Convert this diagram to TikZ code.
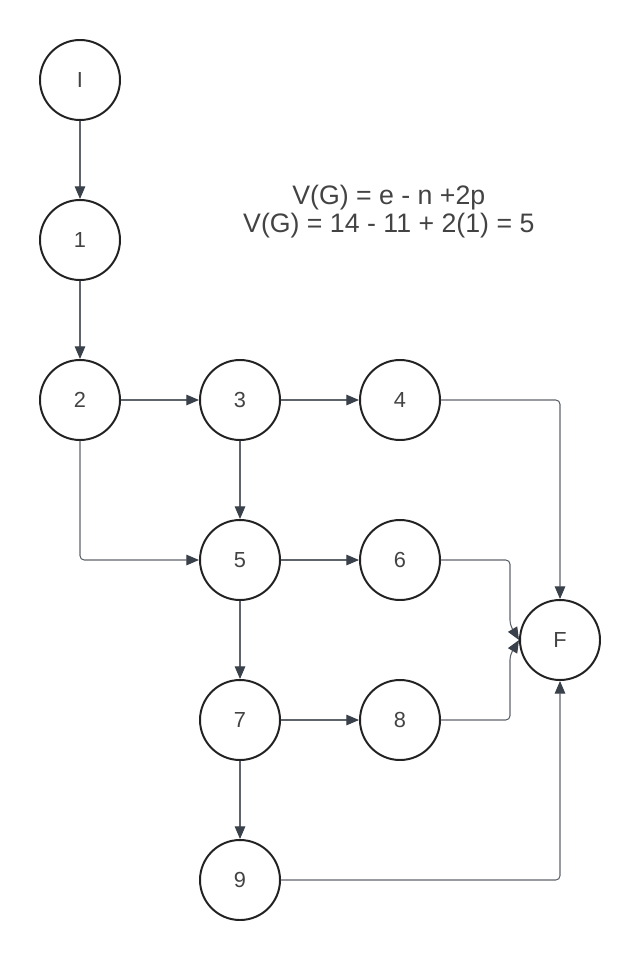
\documentclass[tikz,border=0pt]{standalone}
\usepackage{fontspec}
\setmainfont{Liberation Sans}
\usetikzlibrary{arrows.meta}
\definecolor{ink}{HTML}{222222}
\definecolor{wire}{HTML}{5F646B}
\definecolor{tip}{HTML}{3A414A}
\begin{document}
\begin{tikzpicture}[x=1cm,y=1cm,
  vertex/.style={circle,draw=ink,line width=1.4pt,minimum size=2cm,inner sep=0pt,
    font=\fontsize{15.5}{15.5}\selectfont,text=ink!85},
  conn/.style={draw=wire,line width=0.75pt,rounded corners=3pt,
    -{Triangle[length=9pt,width=7.5pt,fill=tip,color=tip]}}]
\useasboundingbox (0,0) rectangle (16,-24);
% nodes of the flow graph
\node[vertex] (I) at (2,-2) {I};
\node[vertex] (n1) at (2,-6) {1};
\node[vertex] (n2) at (2,-10) {2};
\node[vertex] (n3) at (6,-10) {3};
\node[vertex] (n4) at (10,-10) {4};
\node[vertex] (n5) at (6,-14) {5};
\node[vertex] (n6) at (10,-14) {6};
\node[vertex] (F) at (14,-16) {F};
\node[vertex] (n7) at (6,-18) {7};
\node[vertex] (n8) at (10,-18) {8};
\node[vertex] (n9) at (6,-22) {9};
% cyclomatic complexity
\node[align=center,font=\fontsize{19}{20}\selectfont,text=ink!85] (vg) at (9.72,-5.3)
  {V(G) = e - n +2p\\V(G) = 14 - 11 + 2(1) = 5};
% edges
\coordinate (j6a) at (12.75,-14);
\coordinate (j6b) at (12.75,-15.62);
\coordinate (j8a) at (12.75,-18);
\coordinate (j8b) at (12.75,-16.38);
\draw[conn] (I) -- (n1);
\draw[conn] (n1) -- (n2);
\draw[conn] (n2) -- (n3);
\draw[conn] (n3) -- (n4);
\draw[conn] (n4.east) -| (F.north);
\draw[conn] (n2.south) |- (n5.west);
\draw[conn] (n3) -- (n5);
\draw[conn] (n5) -- (n6);
\draw[conn] (n6.east) -- (j6a) -- (j6b) -- (F.west);
\draw[conn] (n5) -- (n7);
\draw[conn] (n7) -- (n8);
\draw[conn] (n8.east) -- (j8a) -- (j8b) -- (F.west);
\draw[conn] (n7) -- (n9);
\draw[conn] (n9.east) -| (F.south);
\end{tikzpicture}
\end{document}
